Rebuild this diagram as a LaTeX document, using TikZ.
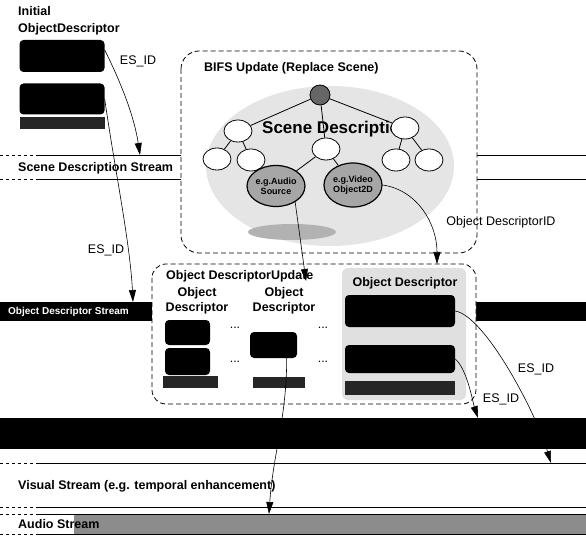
\documentclass[tikz,border=0pt]{standalone}
\usepackage{fontspec}
\setmainfont{Liberation Sans}
\usetikzlibrary{arrows.meta,shapes.geometric}

\tikzset{
  lbl/.style={font=\bfseries\fontsize{12.5}{15}\selectfont, inner sep=0pt, anchor=west},
  esid/.style={font=\fontsize{12.5}{14}\selectfont, inner sep=0pt},
  odbox/.style={fill=black, rounded corners=4pt, inner sep=0pt},
  odstrip/.style={fill=black!85, inner sep=0pt},
  group/.style={draw, thick, dash pattern=on 5pt off 3pt, rounded corners=18pt, fill=white},
  leaf/.style={ellipse, draw, thick, fill=white, minimum width=28pt, minimum height=22pt, inner sep=0pt},
  media/.style={ellipse, draw, very thick, fill=black!35, inner sep=0pt, minimum width=56pt,
    minimum height=41pt, align=center, font=\bfseries\fontsize{9}{10}\selectfont},
  esarrow/.style={-{Triangle[length=12pt,width=7pt]}, semithick},
}

\begin{document}
\begin{tikzpicture}[x=1pt, y=-1pt]
    \useasboundingbox (0,0) rectangle (586,537);

    % stream lines, dashed at the left end
    \fill[black!45] (74,514) rectangle (586,534);
    \foreach \y in {155,179,463,507,514,534} {
      \draw[thick, dashed] (0,\y) -- (36,\y);
      \draw[thick] (36,\y) -- (586,\y);
    }
    \fill (0,302) rectangle (586,321);
    \fill (0,418) rectangle (586,449);
    \node[lbl, text=white, font=\bfseries\fontsize{10}{12}\selectfont] (odstitle) at (8,311.5) {Object Descriptor Stream};

    % dashed groups
    \draw[group] (181,51) rectangle (477,253);
    \draw[group, rounded corners=14pt] (152,264) rectangle (476,404);
    \fill[black!10] (330,166) ellipse [x radius=124, y radius=80];
    \fill[black!30] (292,232) ellipse [x radius=44, y radius=8];
    \fill[black!12, rounded corners=6pt] (342,268) rectangle (466,400);

    % titles
    \node[lbl] (initial) at (18,11) {Initial};
    \node[lbl] (iodtitle) at (18,29) {ObjectDescriptor};
    \node[lbl] (sdstitle) at (18,168) {Scene Description Stream};
    \node[lbl] (vistitle) at (18,486) {Visual Stream (e.g. temporal enhancement)};
    \node[lbl] (audtitle) at (18,524) {Audio Stream};
    \node[lbl] (bifstitle) at (204,68) {BIFS Update (Replace Scene)};
    \node[lbl] (odutitle) at (166,276) {Object DescriptorUpdate};
    \node[lbl, anchor=center] (c3title) at (405,283) {Object Descriptor};
    \node[lbl, anchor=center, align=center] (c1title) at (197,301) {Object\\Descriptor};
    \node[lbl, anchor=center, align=center] (c2title) at (284,301) {Object\\Descriptor};
    \node[font=\bfseries\fontsize{17}{19}\selectfont, anchor=west, inner sep=0pt] (scenetitle) at (262,129) {Scene Description};

    % descriptors
    \node[odbox, minimum width=85pt, minimum height=32pt] (iod1) at (62,56) {};
    \node[odbox, minimum width=85pt, minimum height=31pt] (iod2) at (62,99) {};
    \node[odstrip, minimum width=85pt, minimum height=12pt] (iods) at (62,123) {};

    \node[odbox, minimum width=45pt, minimum height=25pt] (c1a) at (187.5,332.5) {};
    \node[odbox, minimum width=45pt, minimum height=27pt] (c1b) at (187.5,361.5) {};
    \node[odstrip, minimum width=55pt, minimum height=12pt] (c1s) at (190.5,382) {};
    \node[odbox, minimum width=47pt, minimum height=26pt] (c2a) at (273.5,345) {};
    \node[odstrip, minimum width=52pt, minimum height=11pt] (c2s) at (279,382.5) {};
    \node[odbox, minimum width=110pt, minimum height=32pt] (c3a) at (400,311) {};
    \node[odbox, minimum width=110pt, minimum height=28pt] (c3b) at (400,359) {};
    \node[odstrip, minimum width=110pt, minimum height=14pt] (c3s) at (400,387.5) {};

    \node[esid] (dots1) at (235,328) {...};
    \node[esid] (dots2) at (235,362) {...};
    \node[esid] (dots3) at (323,328) {...};
    \node[esid] (dots4) at (323,362) {...};

    % scene tree
    \node[circle, draw, thick, fill=black!60, minimum size=20pt, inner sep=0pt] (root) at (320,95) {};
    \node[leaf] (nl) at (238,131) {};
    \node[leaf] (nll) at (217,159) {};
    \node[leaf] (nlr) at (251,160) {};
    \node[leaf] (nm) at (326,149) {};
    \node[leaf] (nr) at (405,128) {};
    \node[leaf] (nrl) at (396,160) {};
    \node[leaf] (nrr) at (429,160) {};
    \node[media] (audio) at (276,186) {e.g.Audio\\Source};
    \node[media, minimum width=58pt, minimum height=44pt] (video) at (353,185) {e.g.Video\\Object2D};

    \draw[thick] (root) -- (nl) (root) -- (nm) (root) -- (nr)
      (nl) -- (nll) (nl) -- (nlr) (nr) -- (nrl) (nr) -- (nrr)
      (nm) -- (audio) (nm) -- (video);

    % ES_ID links
    \coordinate (sdsIn) at (140,155);
    \coordinate (odsIn) at (133,302);
    \coordinate (oduIn) at (306,281);
    \coordinate (odIn) at (437,264);
    \coordinate (baseIn) at (478,418);
    \coordinate (enhIn) at (551,463);
    \coordinate (audIn) at (269,514);

    \draw[esarrow] (iod1.8) .. controls +(15,30) and +(-6,-40) .. (sdsIn);
    \draw[esarrow] (iod2.east) .. controls +(10,70) and +(-3,-60) .. (odsIn);
    \draw[esarrow] (audio.-40) -- (oduIn);
    \draw[esarrow] (video.east) .. controls +(35,5) and +(0,-40) .. (odIn);
    \draw[esarrow] (c2a.-45) .. controls +(0,60) and +(4,-60) .. (audIn);
    \draw[esarrow] (c3a.east) .. controls +(30,5) and +(-15,-50) .. (enhIn);
    \draw[esarrow] (c3b.east) .. controls +(12,10) and +(-5,-15) .. (baseIn);

    \node[esid] (esid1) at (138,61) {ES\_ID};
    \node[esid] (esid2) at (106,250) {ES\_ID};
    \node[esid] (esid3) at (536,369) {ES\_ID};
    \node[esid] (esid4) at (501,399) {ES\_ID};
    \node[esid] (odidlbl) at (501,222) {Object DescriptorID};
\end{tikzpicture}
\end{document}
